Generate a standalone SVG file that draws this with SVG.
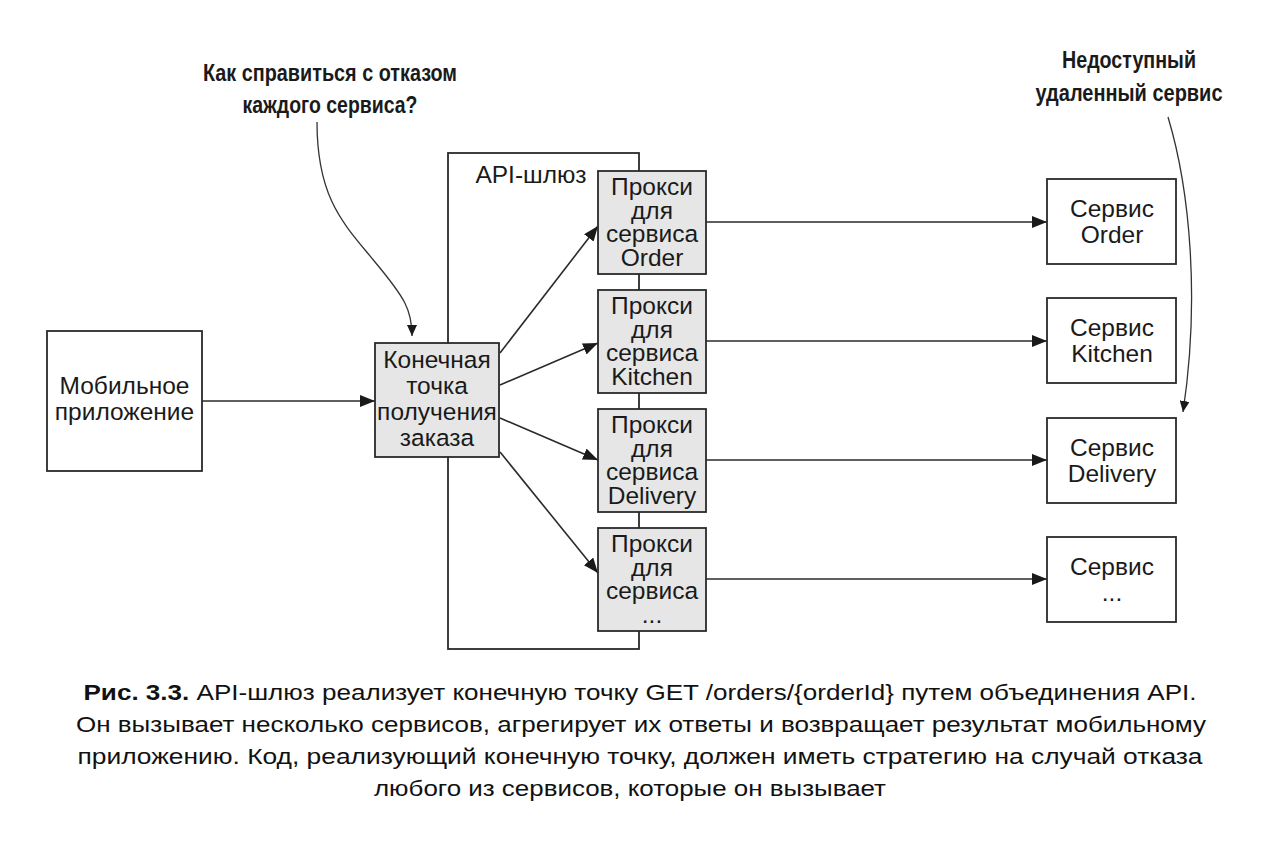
<svg xmlns="http://www.w3.org/2000/svg" width="1280" height="859" viewBox="0 0 1280 859">
<defs>
<style>
.box{fill:#ffffff;stroke:#2a2a2a;stroke-width:1.8}
.gbox{fill:#e6e6e6;stroke:#2a2a2a;stroke-width:1.8}
.t{font-family:"Liberation Sans",Arial,sans-serif;font-size:24.5px;fill:#1a1a1a;text-anchor:middle}
.ann{font-family:"Liberation Sans",Arial,sans-serif;font-size:24px;font-weight:bold;fill:#1a1a1a;text-anchor:middle}
.cap{font-family:"Liberation Sans",Arial,sans-serif;font-size:22px;fill:#111;text-anchor:middle}
.con{fill:none;stroke:#2a2a2a;stroke-width:1.6}
.cur{fill:none;stroke:#333;stroke-width:1.3}
</style>
<marker id="ah" markerUnits="userSpaceOnUse" markerWidth="15" markerHeight="12" refX="15" refY="6" orient="auto"><path d="M0,0 L15,6 L0,12 z" fill="#1a1a1a"/></marker>
<marker id="ah2" markerUnits="userSpaceOnUse" markerWidth="11" markerHeight="10" refX="11" refY="5" orient="auto"><path d="M0,0 L11,5 L0,10 z" fill="#1a1a1a"/></marker>
</defs>
<rect width="1280" height="859" fill="#ffffff"/>

<g id="gateway">
<rect class="box" x="448" y="153" width="191" height="496"/>
<text class="t" x="531" y="183">API-шлюз</text>
</g>

<g id="annotation-left">
<text class="ann" x="330" y="81" textLength="254" lengthAdjust="spacingAndGlyphs">Как справиться с отказом</text>
<text class="ann" x="330" y="113" textLength="175" lengthAdjust="spacingAndGlyphs">каждого сервиса?</text>
</g>
<g id="annotation-right">
<text class="ann" x="1129" y="68" textLength="134" lengthAdjust="spacingAndGlyphs">Недоступный</text>
<text class="ann" x="1129" y="101" textLength="187" lengthAdjust="spacingAndGlyphs">удаленный сервис</text>
</g>

<g id="connectors">
<line class="con" x1="202" y1="401" x2="375" y2="401" marker-end="url(#ah)"/>
<line class="con" x1="500" y1="353" x2="598" y2="226" marker-end="url(#ah)"/>
<line class="con" x1="500" y1="385" x2="598" y2="343" marker-end="url(#ah)"/>
<line class="con" x1="500" y1="418" x2="598" y2="460" marker-end="url(#ah)"/>
<line class="con" x1="500" y1="452" x2="598" y2="573" marker-end="url(#ah)"/>
<line class="con" x1="706" y1="222" x2="1047" y2="222" marker-end="url(#ah)"/>
<line class="con" x1="706" y1="341" x2="1047" y2="341" marker-end="url(#ah)"/>
<line class="con" x1="706" y1="460" x2="1047" y2="460" marker-end="url(#ah)"/>
<line class="con" x1="706" y1="579" x2="1047" y2="579" marker-end="url(#ah)"/>
<path class="cur" d="M317,122 C317,200 345,225 375,262 C405,298 412,310 412,336" marker-end="url(#ah2)"/>
<path class="cur" d="M1168,117 C1190,190 1200,300 1183,412" marker-end="url(#ah2)"/>
</g>

<g id="mobile">
<rect class="box" x="47" y="331" width="155" height="140"/>
<text class="t" x="124.5" y="394">Мобильное</text>
<text class="t" x="124.5" y="420">приложение</text>
</g>

<g id="endpoint">
<rect class="gbox" x="375" y="343" width="124" height="114"/>
<text class="t" x="437" y="368">Конечная</text>
<text class="t" x="437" y="394">точка</text>
<text class="t" x="437" y="420">получения</text>
<text class="t" x="437" y="446">заказа</text>
</g>

<g id="proxy-order">
<rect class="gbox" x="598" y="171" width="108" height="103"/>
<text class="t" x="652" y="195">Прокси</text>
<text class="t" x="652" y="218.5">для</text>
<text class="t" x="652" y="242">сервиса</text>
<text class="t" x="652" y="265.5">Order</text>
</g>
<g id="proxy-kitchen">
<rect class="gbox" x="598" y="290" width="108" height="103"/>
<text class="t" x="652" y="314">Прокси</text>
<text class="t" x="652" y="337.5">для</text>
<text class="t" x="652" y="361">сервиса</text>
<text class="t" x="652" y="384.5">Kitchen</text>
</g>
<g id="proxy-delivery">
<rect class="gbox" x="598" y="409" width="108" height="103"/>
<text class="t" x="652" y="433">Прокси</text>
<text class="t" x="652" y="456.5">для</text>
<text class="t" x="652" y="480">сервиса</text>
<text class="t" x="652" y="503.5">Delivery</text>
</g>
<g id="proxy-other">
<rect class="gbox" x="598" y="528" width="108" height="103"/>
<text class="t" x="652" y="552">Прокси</text>
<text class="t" x="652" y="575.5">для</text>
<text class="t" x="652" y="599">сервиса</text>
<text class="t" x="652" y="622.5">...</text>
</g>

<g id="service-order">
<rect class="box" x="1047" y="179" width="129" height="85"/>
<text class="t" x="1112" y="217">Сервис</text>
<text class="t" x="1112" y="243">Order</text>
</g>
<g id="service-kitchen">
<rect class="box" x="1047" y="298" width="129" height="85"/>
<text class="t" x="1112" y="336">Сервис</text>
<text class="t" x="1112" y="362">Kitchen</text>
</g>
<g id="service-delivery">
<rect class="box" x="1047" y="418" width="129" height="85"/>
<text class="t" x="1112" y="456">Сервис</text>
<text class="t" x="1112" y="482">Delivery</text>
</g>
<g id="service-other">
<rect class="box" x="1047" y="537" width="129" height="85"/>
<text class="t" x="1112" y="575">Сервис</text>
<text class="t" x="1112" y="601">...</text>
</g>

<g id="caption">
<text class="cap" x="640" y="700" textLength="1113" lengthAdjust="spacingAndGlyphs"><tspan font-weight="bold">Рис. 3.3.</tspan> API-шлюз реализует конечную точку GET /orders/{orderId} путем объединения API.</text>
<text class="cap" x="641" y="732" textLength="1130" lengthAdjust="spacingAndGlyphs">Он вызывает несколько сервисов, агрегирует их ответы и возвращает результат мобильному</text>
<text class="cap" x="640" y="764" textLength="1125" lengthAdjust="spacingAndGlyphs">приложению. Код, реализующий конечную точку, должен иметь стратегию на случай отказа</text>
<text class="cap" x="630" y="796" textLength="512" lengthAdjust="spacingAndGlyphs">любого из сервисов, которые он вызывает</text>
</g>
</svg>
